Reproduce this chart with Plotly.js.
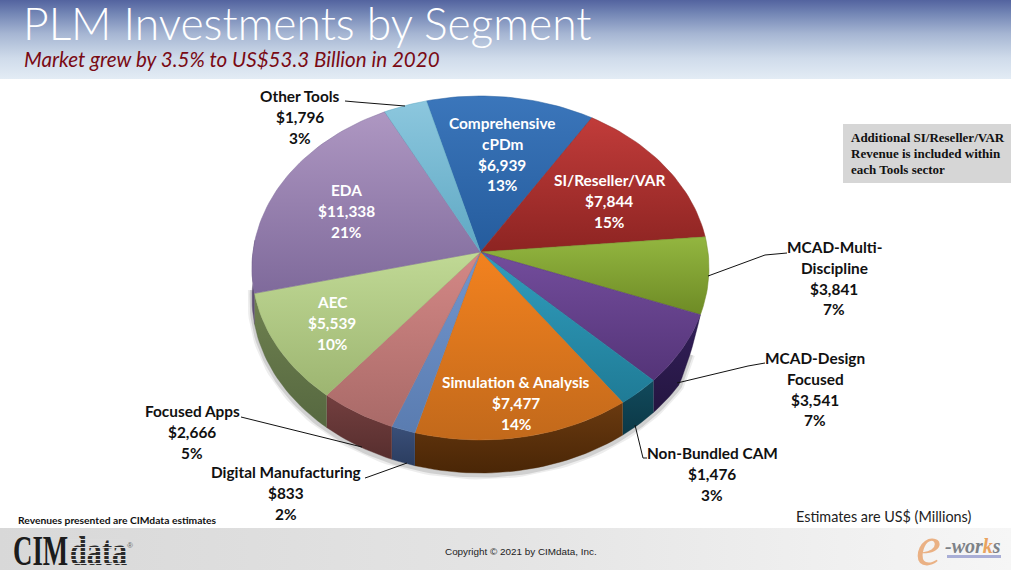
<!DOCTYPE html>
<html><head><meta charset="utf-8">
<script src="https://cdn.plot.ly/plotly-3.0.1.min.js"></script>
<style>
html,body{margin:0;padding:0;width:1011px;height:570px;overflow:hidden;background:#fff}
#wrap{position:relative;width:1011px;height:570px;background:
 linear-gradient(to bottom,#53639f 0,#7487b6 14px,#a6b6d3 34px,#cfdbea 58px,#e3ecf5 79px,rgba(255,255,255,0) 79px) no-repeat top/100% 79px,
 linear-gradient(to right,#d8d8d8 0,#e4e4e4 50%,#f6f6f6 100%) no-repeat bottom/100% 42px,#fff}
#chart{position:absolute;left:0;top:0;width:1011px;height:570px}
.logo{position:absolute;font-family:"Liberation Serif",serif;font-weight:bold;font-size:42px;line-height:36px;transform-origin:0 100%;white-space:nowrap}
#cim{left:13px;top:533px;color:#1c1c1c;transform:scaleX(.64)}
#dat{left:70px;top:533px;color:#2a2a2a;transform:scaleX(.72)}
#ee{left:916px;top:530px;font-size:56px;line-height:32px;font-weight:normal;font-style:italic;color:#eab184}
#stripes{position:absolute;left:69px;top:536px;width:59px;height:31px;pointer-events:none;
 background:repeating-linear-gradient(to bottom,rgba(221,221,221,0) 0,rgba(221,221,221,0) 3px,#dcdcdc 3px,#dcdcdc 4px)}
</style></head><body>
<div id="wrap"><div id="chart"></div>
<div class="logo" id="cim">CIM</div><div class="logo" id="dat">data</div><div id="stripes"></div><div class="logo" id="ee">e</div></div>
<script>
// ---- data ----
const categories = ["Comprehensive cPDm","SI/Reseller/VAR","MCAD-Multi-Discipline","MCAD-Design Focused","Non-Bundled CAM","Simulation & Analysis","Digital Manufacturing","Focused Apps","AEC","EDA","Other Tools"];
const values = [6939,7844,3841,3541,1476,7477,833,2666,5539,11338,1796];
const shares = [13,15,7,7,3,14,2,5,10,21,3];
const labelLines = [["Comprehensive","cPDm"],["SI/Reseller/VAR"],["MCAD-Multi-","Discipline"],["MCAD-Design","Focused"],["Non-Bundled CAM"],["Simulation & Analysis"],["Digital Manufacturing"],["Focused Apps"],["AEC"],["EDA"],["Other Tools"]];

// ---- styles and layout ----
const topColors = [["#3b76bb","#255c9d"],["#c13c3a","#8d2422"],["#93b640","#6e8b25"],["#734d9c","#543478"],["#319dbd","#1f7b96"],["#f3821f","#c2691b"],["#7296ce","#5a7cb0"],["#d48886","#a96a68"],["#c0d995","#9db571"],["#ae97c2","#7f6a9b"],["#8cc7de","#5fa8c3"]];
const wallColors = [["#1d4a7c","#1d4a7c"],["#6e1c1b","#6e1c1b"],["#55701f","#46601a"],["#33205a","#241540"],["#114a5c","#0c3846"],["#6a3a10","#4a2606"],["#3a4f78","#2b3d60"],["#733f3f","#572e2e"],["#6f8150","#566840"],["#5f4f75","#5f4f75"],["#3f7f94","#3f7f94"]];
const labelPos = [[502,123],[609,180],[834,247],[815,358],[712,453],[516,382],[286,472],[192,411],[332,302],[346,190],[300,96]];
const labelInside = [true,true,false,false,false,true,false,false,true,true,false];
const step = 20.8;
const cx = 480.5, cy = 252, rx = 227.5, ry = 170.5, persp = 0.093, depth = 30, startDeg = -15;
const wallStart = 111, wallFull = 124, wallEnd = 274;

const total = values.reduce((a,b)=>a+b,0);
const rad = d => d*Math.PI/180;
function project(deg, r){
  const s = Math.sin(rad(deg))*r, c = Math.cos(rad(deg))*r, w = 1+persp*c;
  const taper = Math.min(1,Math.max(0,(deg-wallStart)/(wallFull-wallStart)));
  return {x:cx+rx*s/w, y:cy-ry*c/w, d:depth/w*taper};
}
function arc(a,b){const n=Math.max(2,Math.ceil(Math.abs(b-a)/1.5)),o=[];for(let i=0;i<=n;i++)o.push(a+(b-a)*i/n);return o;}

const traces=[]; let ang=startDeg; const wedges=[];
values.forEach((v,i)=>{const sweep=v/total*360;wedges.push([ang,ang+sweep,i]);ang+=sweep;});

// soft shadow under the front rim
[[9,0.07],[5,0.12]].forEach(([w,op])=>{
  const pts=arc(118,268).map(d=>project(d,1));
  traces.push({type:'scatter',mode:'lines',x:pts.map(p=>p.x),y:pts.map(p=>p.y+p.d+2),line:{color:'#000',width:w},opacity:op,hoverinfo:'skip',showlegend:false});
});
// side walls
wedges.forEach(([a,b,i])=>{
  const from=Math.max(a,wallStart), to=Math.min(b,wallEnd);
  if(to<=from) return;
  const pts=arc(from,to).map(d=>project(d,1));
  const xs=pts.map(p=>p.x).concat(pts.slice().reverse().map(p=>p.x));
  const ys=pts.map(p=>p.y).concat(pts.slice().reverse().map(p=>p.y+p.d));
  traces.push({type:'scatter',mode:'lines',x:xs,y:ys,fill:'toself',
    fillgradient:{type:'vertical',colorscale:[[0,wallColors[i][1]],[1,wallColors[i][0]]]},
    line:{color:wallColors[i][1],width:0.4},hoverinfo:'skip',showlegend:false});
});
// top surface
wedges.forEach(([a,b,i])=>{
  const pts=arc(a,b).map(d=>project(d,1));
  const xs=[cx].concat(pts.map(p=>p.x),[cx]);
  const ys=[cy].concat(pts.map(p=>p.y),[cy]);
  traces.push({type:'scatter',mode:'lines',x:xs,y:ys,fill:'toself',name:categories[i],
    fillgradient:{type:'vertical',colorscale:[[0,topColors[i][1]],[1,topColors[i][0]]]},
    line:{color:topColors[i][1],width:0.5},hoverinfo:'skip',showlegend:false});
});

const fontMain='Lato, "Open Sans", sans-serif';
const ann=[];
function txt(x,y,text,size,color,extra){ann.push(Object.assign({xref:'x',yref:'y',x:x,y:y,text:text,showarrow:false,
  font:{family:fontMain,size:size,color:color},xanchor:'center',yanchor:'middle',borderpad:0},extra||{}));}

categories.forEach((c,i)=>{
  const lines=labelLines[i].concat(['$'+values[i].toLocaleString('en-US'),shares[i]+'%']);
  const col=labelInside[i]?'#ffffff':'#111111';
  lines.forEach((t,j)=>txt(labelPos[i][0],labelPos[i][1]+j*step,'<b>'+t+'</b>',15.4,col));
});
// header
txt(22,22,'PLM Investments by Segment',44.4,'#ffffff',{xanchor:'left',font:{family:fontMain,size:44.4,color:'#ffffff',weight:300}});
txt(23,59,'<i>Market grew by 3.5% to US$53.3 Billion in 2020</i>',20.6,'#7a0a14',{xanchor:'left'});
// notes
const serifNote={family:'"Liberation Serif",serif',size:13,color:'#111'};
['Additional SI/Reseller/VAR','Revenue is included within','each Tools sector'].forEach((t,j)=>
  txt(850,137+j*16,'<b>'+t+'</b>',13,'#111',{xanchor:'left',font:serifNote}));
txt(17,520,'<b>Revenues presented are CIMdata estimates</b>',10.3,'#111',{xanchor:'left'});
txt(795,516,'Estimates are US$ (Millions)',14.4,'#222',{xanchor:'left'});
txt(521,551,'Copyright © 2021 by CIMdata, Inc.',9.9,'#222',{font:{family:'"Liberation Sans",sans-serif',size:9.9,color:'#222'}});
// logos as text
txt(130,545,'®',8,'#666',{font:{family:'"Liberation Sans",sans-serif',size:8,color:'#666'}});
txt(944,546,'<b><i>-wor<span style="color:#e9a35f">k</span>s</i></b>',20,'#7d8288',{xanchor:'left',font:{family:'"Liberation Serif",serif',size:20,color:'#7d8288'}});

const leader=(p)=>({type:'path',xref:'x',yref:'y',path:p,line:{color:'#111',width:1},layer:'above'});
const shapes=[
 {type:'rect',xref:'x',yref:'y',x0:843,x1:1011,y0:124,y1:183,fillcolor:'#d6d6d6',line:{width:0},layer:'below'},
 {type:'rect',xref:'x',yref:'y',x0:947,x1:1001,y0:555,y1:558,fillcolor:'#a9aed6',line:{width:0},layer:'below'},
 leader('M345,101 L356,102 L405,106'),
 leader('M708,276 L765,255 L787,253'),
 leader('M677,383 L748,366 L765,363'),
 leader('M635,425 L643,458 L647,458'),
 leader('M241,417 L362,447'),
 leader('M365,478 L368,477 L407,463')
];

Plotly.newPlot('chart',traces,{
  width:1011,height:570,margin:{l:0,r:0,t:0,b:0},
  paper_bgcolor:'rgba(0,0,0,0)',plot_bgcolor:'rgba(0,0,0,0)',showlegend:false,
  xaxis:{range:[0,1011],visible:false,fixedrange:true},
  yaxis:{range:[570,0],visible:false,fixedrange:true},
  annotations:ann,shapes:shapes
},{displayModeBar:false,staticPlot:true});
</script>
</body></html>
